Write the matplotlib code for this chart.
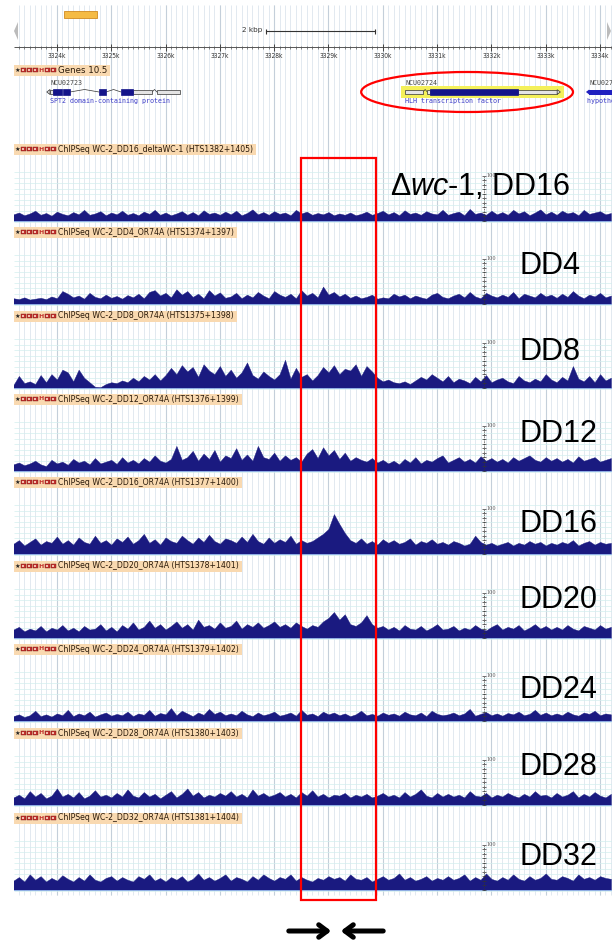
import numpy as np
import matplotlib.pyplot as plt
from matplotlib.patches import Rectangle, Ellipse, Polygon

plt.rcParams['font.family'] = ['DejaVu Sans']
plt.rcParams['mathtext.fontset'] = 'custom'
plt.rcParams['mathtext.rm'] = 'Liberation Sans'
plt.rcParams['mathtext.it'] = 'Liberation Sans:italic'

# ---------------------------------------------------------------- data
kb_start, kb_step = 3323.2, 0.1          # coverage bins (kb)
ruler_kb = [3324, 3325, 3326, 3327, 3328, 3329, 3330, 3331, 3332, 3333, 3334]
scalebar_kb = [3327.85, 3329.86]
box_kb = [3328.49, 3329.87]              # red box (region of interest)

track_titles = ['ChIPSeq WC-2_DD16_deltaWC-1 (HTS1382+1405)',
                'ChIPSeq WC-2_DD4_OR74A (HTS1374+1397)',
                'ChIPSeq WC-2_DD8_OR74A (HTS1375+1398)',
                'ChIPSeq WC-2_DD12_OR74A (HTS1376+1399)',
                'ChIPSeq WC-2_DD16_OR74A (HTS1377+1400)',
                'ChIPSeq WC-2_DD20_OR74A (HTS1378+1401)',
                'ChIPSeq WC-2_DD24_OR74A (HTS1379+1402)',
                'ChIPSeq WC-2_DD28_OR74A (HTS1380+1403)',
                'ChIPSeq WC-2_DD32_OR74A (HTS1381+1404)']
track_labels = ['Δ$\\mathit{wc}$-1, DD16', 'DD4', 'DD8', 'DD12', 'DD16',
                'DD20', 'DD24', 'DD28', 'DD32']

cov_dwc1 = [14, 18, 12, 16, 22, 13, 17, 11, 20, 15,
            12, 19, 14, 24, 13, 16, 21, 12, 18, 14,
            22, 13, 17, 12, 20, 15, 24, 13, 18, 12,
            16, 21, 13, 19, 12, 23, 15, 18, 13, 20,
            14, 22, 12, 17, 25, 14, 19, 13, 21, 15,
            18, 12, 24, 16, 20, 13, 17, 14, 19, 12,
            16, 13, 18, 12, 15, 20, 13, 17, 22, 14,
            19, 12, 23, 15, 18, 13, 21, 16, 14, 24,
            13, 17, 20, 12, 26, 15, 18, 13, 22, 14,
            19, 13, 24, 16, 21, 12, 18, 25, 14, 20,
            13, 22, 16, 19, 12, 24, 15, 18, 21, 14, 17]
cov_dd4 = [12, 10, 14, 9, 11, 13, 10, 16, 12, 28,
           22, 14, 18, 11, 24, 15, 12, 20, 13, 17,
           11, 19, 14, 22, 12, 26, 30, 18, 24, 14,
           32, 20, 28, 15, 22, 12, 30, 18, 25, 13,
           16, 24, 12, 20, 14, 26, 18, 12, 28, 20,
           15, 22, 12, 30, 18, 24, 14, 38, 20, 26,
           16, 22, 13, 18, 12, 15, 20, 11, 14, 12,
           22, 16, 20, 12, 18, 14, 11, 20, 24, 15,
           12, 18, 22, 14, 26, 16, 12, 24, 18, 14,
           20, 15, 26, 12, 22, 18, 14, 24, 16, 20,
           13, 22, 15, 28, 18, 12, 20, 16, 24, 14, 18]
cov_dd8 = [6, 26, 10, 14, 8, 28, 12, 30, 18, 40,
           34, 14, 40, 22, 12, 2, 1, 8, 12, 10,
           16, 12, 22, 14, 26, 18, 30, 16, 28, 44,
           30, 50, 36, 46, 24, 52, 38, 30, 48, 26,
           40, 22, 34, 56, 28, 20, 36, 26, 18, 30,
           62, 20, 44, 24, 30, 16, 28, 46, 34, 50,
           30, 42, 38, 52, 26, 48, 36, 22, 14, 18,
           12, 10, 14, 8, 16, 24, 18, 30, 22, 14,
           26, 12, 20, 16, 10, 24, 14, 28, 12, 18,
           22, 14, 10, 26, 16, 12, 20, 14, 30, 18,
           12, 24, 16, 48, 20, 14, 26, 12, 30, 16, 22]
cov_dd12 = [14, 18, 12, 16, 22, 14, 10, 24, 16, 20,
            13, 26, 18, 22, 14, 28, 16, 20, 24, 15,
            30, 18, 24, 16, 28, 20, 34, 22, 18, 26,
            55, 24, 30, 44, 22, 38, 26, 46, 20, 34,
            28, 50, 24, 36, 22, 55, 30, 26, 40, 22,
            34, 24, 30, 20, 38, 48, 28, 52, 34, 46,
            26, 40, 22, 30, 24, 20, 28, 18, 24, 16,
            22, 14, 26, 18, 30, 16, 24, 20, 28, 34,
            18, 24, 30, 20, 26, 18, 32, 22, 28, 20,
            26, 18, 30, 22, 28, 34, 24, 20, 30, 22,
            28, 20, 26, 18, 32, 22, 26, 30, 20, 24, 28]
cov_dd16 = [22, 30, 18, 26, 34, 20, 28, 24, 38, 22,
            30, 20, 36, 26, 22, 40, 24, 30, 20, 34,
            26, 38, 22, 30, 44, 24, 32, 20, 36, 28,
            24, 40, 30, 22, 36, 26, 42, 28, 22, 34,
            30, 24, 38, 26, 44, 28, 22, 36, 24, 32,
            26, 40, 22, 30, 24, 28, 36, 44, 55, 88,
            66, 46, 30, 24, 34, 22, 28, 20, 32, 24,
            30, 22, 26, 34, 20, 28, 24, 32, 22, 26,
            20, 28, 24, 18, 22, 40, 26, 20, 24, 18,
            22, 26, 18, 24, 20, 28, 22, 26, 18, 24,
            20, 26, 22, 30, 18, 24, 28, 20, 26, 22, 24]
cov_dd20 = [18, 24, 14, 20, 16, 26, 14, 22, 18, 28,
            16, 22, 14, 26, 18, 20, 30, 16, 24, 14,
            28, 20, 34, 18, 24, 38, 22, 30, 18, 26,
            36, 22, 30, 18, 40, 24, 28, 20, 34, 22,
            26, 38, 20, 30, 24, 34, 22, 28, 36, 24,
            30, 22, 34, 26, 20, 28, 24, 36, 44, 57,
            40, 52, 30, 26, 34, 50, 30, 22, 26, 18,
            24, 16, 28, 20, 18, 26, 16, 22, 30, 18,
            20, 26, 16, 22, 18, 28, 20, 16, 24, 30,
            18, 24, 20, 28, 16, 22, 30, 20, 26, 18,
            24, 18, 28, 20, 16, 26, 22, 18, 28, 20, 24]
cov_dd24 = [10, 14, 8, 12, 22, 10, 14, 9, 16, 12,
            24, 10, 16, 12, 20, 9, 14, 18, 11, 15,
            12, 20, 10, 16, 13, 24, 11, 17, 14, 28,
            12, 22, 16, 10, 18, 13, 26, 15, 20, 12,
            16, 12, 22, 14, 10, 18, 12, 15, 20, 11,
            14, 18, 11, 24, 13, 16, 10, 20, 14, 18,
            12, 16, 10, 14, 22, 12, 15, 11, 18, 13,
            16, 11, 20, 14, 12, 18, 10, 22, 15, 12,
            14, 18, 12, 16, 26, 11, 15, 19, 12, 16,
            11, 17, 14, 20, 12, 15, 24, 13, 18, 12,
            16, 12, 20, 14, 11, 18, 15, 22, 12, 16, 14]
cov_dd28 = [16, 22, 14, 30, 18, 26, 14, 20, 36, 18,
            24, 16, 28, 14, 20, 32, 18, 22, 16, 26,
            18, 34, 20, 16, 28, 18, 24, 14, 22, 30,
            16, 24, 36, 20, 28, 16, 22, 18, 26, 20,
            30, 18, 24, 16, 34, 20, 26, 18, 22, 28,
            18, 24, 16, 28, 20, 32, 18, 24, 16, 22,
            20, 26, 16, 22, 18, 24, 16, 20, 26, 18,
            22, 16, 28, 18, 24, 34, 20, 16, 26, 18,
            24, 18, 22, 16, 30, 20, 18, 26, 16, 22,
            18, 26, 20, 16, 24, 18, 30, 20, 22, 16,
            26, 18, 22, 30, 16, 24, 18, 28, 20, 16, 24]
cov_dd32 = [20, 28, 18, 34, 22, 30, 18, 26, 20, 32,
            24, 18, 28, 20, 34, 22, 18, 26, 30, 20,
            28, 22, 18, 30, 24, 34, 20, 26, 18, 28,
            22, 30, 18, 24, 36, 22, 28, 20, 26, 34,
            20, 28, 24, 18, 30, 22, 34, 26, 20, 28,
            24, 34, 20, 28, 22, 18, 26, 22, 30, 24,
            28, 20, 34, 24, 22, 28, 18, 24, 30, 22,
            26, 36, 22, 28, 20, 24, 30, 20, 26, 22,
            30, 22, 26, 34, 20, 28, 22, 36, 24, 20,
            28, 22, 34, 24, 20, 30, 22, 26, 36, 24,
            22, 30, 26, 20, 34, 24, 28, 22, 30, 26, 24]
coverages = [cov_dwc1, cov_dd4, cov_dd8, cov_dd12, cov_dd16,
             cov_dd20, cov_dd24, cov_dd28, cov_dd32]

# gene models (kb)
g1_utr = [(3323.873, 3323.928), (3325.402, 3325.751), (3325.843, 3326.267)]
g1_cds = [(3323.928, 3324.094), (3324.112, 3324.241), (3324.775, 3324.904),
          (3325.181, 3325.402)]
g1_introns = [(3324.241, 3324.775), (3324.904, 3325.181), (3325.751, 3325.843)]
g2_utr = [(3330.41, 3330.74), (3330.82, 3330.87), (3332.49, 3333.21)]
g2_cds = [(3330.87, 3332.49)]
g2_introns = [(3330.74, 3330.82)]
g3_cds = [(3333.80, 3334.40)]

# ---------------------------------------------------------------- layout
W, H = 612, 941
X0, X1 = 3323.21, 3334.22
left_px = 14
baselines = [222, 305, 389, 472, 555, 639, 722, 806, 891]
label_y = [187, 266, 352, 434, 524, 600, 690, 767, 857]
label_x = [390, 519, 519, 519, 519, 519, 519, 519, 519]
navy = '#1a1a80'
scale_kb = 3331.865

fig = plt.figure(figsize=(W / 100, H / 100), dpi=100)

# genome axes: x in kb, y in pixels
gax = fig.add_axes([left_px / W, 0, (W - left_px) / W, 1])
gax.set_xlim(X0, X1)
gax.set_ylim(H, 0)
gax.axis('off')

# grid
minor = np.arange(3323.3, 3334.25, 0.1)
gax.vlines(minor, 5, 895, color='#dde5ee', lw=0.6, zorder=0)
gax.vlines(ruler_kb, 5, 895, color='#c4cfda', lw=0.8, zorder=0)
for yb in baselines:
    gax.hlines(np.arange(yb - 50, yb, 5.5), X0, X1, color='#d3eeee', lw=0.5, zorder=0)

# ruler
gax.hlines(47, X0, X1, color='#555555', lw=0.7)
gax.vlines(minor, 45.5, 48.5, color='#555555', lw=0.5)
gax.vlines(ruler_kb, 44, 51, color='#444444', lw=0.7)
for k in ruler_kb:
    gax.text(k, 56, '%dk' % k, fontsize=4.8, ha='center', va='center',
             color='#333333', fontstretch='condensed')

# scale bar
gax.plot(scalebar_kb, [31, 31], color='#333333', lw=0.8)
gax.vlines(scalebar_kb, 28.5, 33.5, color='#333333', lw=0.8)
gax.text(scalebar_kb[0] - 0.07, 30, '2 kbp', fontsize=5.2, ha='right', va='center',
         color='#333333')


def draw_gene(utr, cds, introns, yc, edge='#333333'):
    for a, b in utr:
        gax.add_patch(Rectangle((a, yc - 2.3), b - a, 4.6, fc='#e4e4e4',
                                ec=edge, lw=0.5, zorder=3))
    for a, b in cds:
        gax.add_patch(Rectangle((a, yc - 3), b - a, 6, fc='#14148a',
                                ec='#14148a', lw=0.5, zorder=3))
    for a, b in introns:
        gax.plot([a, (a + b) / 2, b], [yc, yc - 2.5, yc], color=edge, lw=0.5, zorder=2)


# NCU02723
draw_gene(g1_utr, g1_cds, g1_introns, 92)
gax.add_patch(Polygon([[g1_utr[0][0] - 0.06, 92], [g1_utr[0][0], 89.5],
                       [g1_utr[0][0], 94.5]], fc='#e4e4e4', ec='#333333',
                      lw=0.5, zorder=3))
gax.text(g1_utr[0][0], 83, 'NCU02723', fontsize=4.8, family='DejaVu Sans Mono',
         color='#444444', va='center')
gax.text(g1_utr[0][0], 101, 'SPT2 domain-containing protein', fontsize=4.8,
         family='DejaVu Sans Mono', color='#3a3ac8', va='center')

# NCU02724 (highlighted)
gax.add_patch(Rectangle((g2_utr[0][0] - 0.08, 86), g2_utr[-1][1] - g2_utr[0][0] + 0.2,
                        12, fc='#f4f05a', ec='none', zorder=1))
draw_gene(g2_utr, g2_cds, g2_introns, 92)
gax.add_patch(Polygon([[g2_utr[-1][1] + 0.06, 92], [g2_utr[-1][1], 89.7],
                       [g2_utr[-1][1], 94.3]], fc='#e4e4e4', ec='#333333',
                      lw=0.5, zorder=3))
gax.text(g2_utr[0][0], 83, 'NCU02724', fontsize=4.8, family='DejaVu Sans Mono',
         color='#444444', va='center')
gax.text(g2_utr[0][0], 101, 'HLH transcription factor', fontsize=4.8,
         family='DejaVu Sans Mono', color='#3a3ac8', va='center')

# NCU0272x (cut at the right edge)
for a, b in g3_cds:
    gax.add_patch(Rectangle((a, 89.5), b - a, 5, fc='#2020c0', ec='none', zorder=3))
    gax.add_patch(Polygon([[a - 0.06, 92], [a, 89.5], [a, 94.5]], fc='#2020c0',
                          ec='none', zorder=3))
    gax.text(a, 83, 'NCU02725', fontsize=4.8, family='DejaVu Sans Mono',
             color='#444444', va='center', clip_on=True)
    gax.text(a - 0.04, 101, 'hypothetical protein', fontsize=4.8,
             family='DejaVu Sans Mono', color='#3a3ac8', va='center', clip_on=True)

# ---------------------------------------------------------------- tracks
xs = kb_start + kb_step * np.arange(len(cov_dwc1))
ymin, ymax = -3, 143.7
for yb, cov in zip(baselines, coverages):
    ax = fig.add_axes([left_px / W, 1 - yb / H, (W - left_px) / W, 66 / H])
    ax.set_xlim(X0, X1)
    ax.set_ylim(ymin, ymax)
    ax.axis('off')
    ax.patch.set_alpha(0)
    ax.fill_between(xs, 0, cov, color=navy, lw=0.3, ec=navy)
    ax.axhline(-2, color='#8fb4ea', lw=1.2)
    ax.plot([scale_kb, scale_kb], [0, 100], color='#333333', lw=0.6, ls=(0, (1, 1)))
    ax.plot([scale_kb] * 11, np.arange(0, 101, 10), ls='none', marker='_',
            ms=2.2, mew=0.5, color='#333333')
    ax.text(scale_kb + 0.04, 101, '100', fontsize=3.5, color='#555555',
            va='center', family='DejaVu Serif')

# ---------------------------------------------------------------- overlay (pixels)
pax = fig.add_axes([0, 0, 1, 1])
pax.set_xlim(0, W)
pax.set_ylim(H, 0)
pax.axis('off')
pax.patch.set_alpha(0)

# browser nav arrows and top feature
pax.add_patch(Polygon([[14, 31], [18, 22], [18, 40]], fc='#bbbbbb', ec='none'))
pax.add_patch(Polygon([[611, 31], [607, 22], [607, 40]], fc='#bbbbbb', ec='none'))
pax.add_patch(Rectangle((64, 11), 33, 7, fc='#f5bb45', ec='#d08a20', lw=0.6))


def header(yc, title, size=5.6):
    t = pax.text(58, yc, title, fontsize=size, va='center', color='#2a1a0a', zorder=6)
    r = fig.canvas.get_renderer()
    x_end = t.get_window_extent(r).x1
    pax.add_patch(Rectangle((14, yc - 5.5), x_end - 14 + 3, 11, fc='#f9d9b0',
                            ec='none', zorder=4))
    pax.text(15, yc, '★', fontsize=4.5, va='center', color='#222222', zorder=6)
    for x in [21, 27, 33, 45, 51]:
        pax.add_patch(Rectangle((x, yc - 2.4), 4.6, 4.8, fc='#c2302c', ec='#7a1a1a',
                                lw=0.3, zorder=5))
        pax.add_patch(Rectangle((x + 1.4, yc - 1), 1.8, 2, fc='#f3c0b0', ec='none',
                                zorder=6))
    pax.text(41, yc, 'H', fontsize=4.5, va='center', ha='center', color='#c2302c',
             fontweight='bold', zorder=6)


header(70, 'Genes 10.5', size=6.2)
for yb, title in zip(baselines, track_titles):
    header(yb - 73, title)

# big labels
for x, y, lab in zip(label_x, label_y, track_labels):
    pax.text(x, y, lab, fontsize=22, family='Liberation Sans', va='center',
             ha='left', color='black', zorder=7)

# red annotations (genome x)
oax = fig.add_axes([left_px / W, 0, (W - left_px) / W, 1])
oax.set_xlim(X0, X1)
oax.set_ylim(H, 0)
oax.axis('off')
oax.patch.set_alpha(0)
oax.add_patch(Rectangle((box_kb[0], 158), box_kb[1] - box_kb[0], 742, fc='none',
                        ec='#ff0000', lw=1.6))
oax.add_patch(Ellipse((3331.552, 92), 3.90, 40, fc='none', ec='#ff0000', lw=1.6))

# converging arrows at the bottom
pax.annotate('', xy=(334, 931), xytext=(286, 931),
             arrowprops=dict(arrowstyle='->,head_length=0.6,head_width=0.45',
                             lw=3.6, color='black'))
pax.annotate('', xy=(338, 931), xytext=(386, 931),
             arrowprops=dict(arrowstyle='->,head_length=0.6,head_width=0.45',
                             lw=3.6, color='black'))

fig.savefig('out.png', dpi=100)
